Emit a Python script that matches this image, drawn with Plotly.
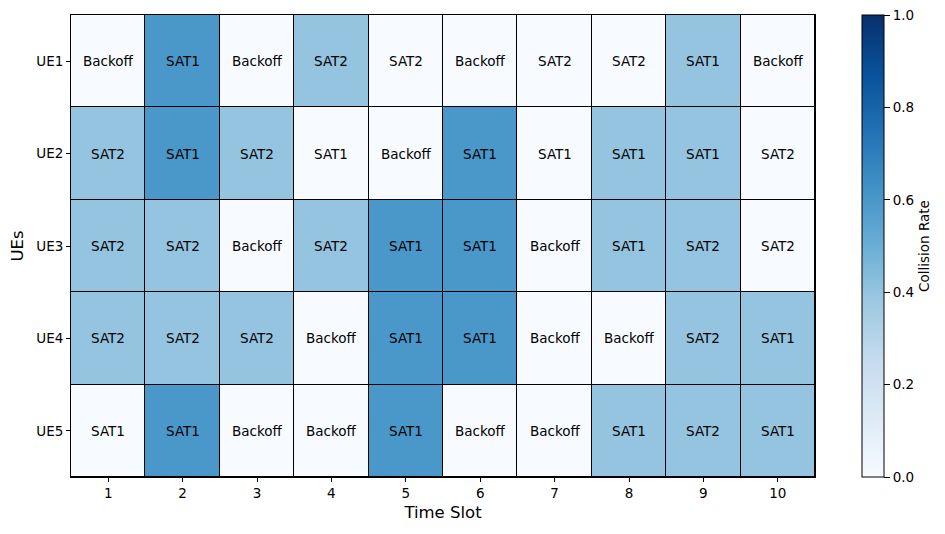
import plotly.graph_objects as go

time_slots = [1, 2, 3, 4, 5, 6, 7, 8, 9, 10]
ues = ["UE1", "UE2", "UE3", "UE4", "UE5"]

actions_ue1 = ["Backoff", "SAT1", "Backoff", "SAT2", "SAT2", "Backoff", "SAT2", "SAT2", "SAT1", "Backoff"]
actions_ue2 = ["SAT2", "SAT1", "SAT2", "SAT1", "Backoff", "SAT1", "SAT1", "SAT1", "SAT1", "SAT2"]
actions_ue3 = ["SAT2", "SAT2", "Backoff", "SAT2", "SAT1", "SAT1", "Backoff", "SAT1", "SAT2", "SAT2"]
actions_ue4 = ["SAT2", "SAT2", "SAT2", "Backoff", "SAT1", "SAT1", "Backoff", "Backoff", "SAT2", "SAT1"]
actions_ue5 = ["SAT1", "SAT1", "Backoff", "Backoff", "SAT1", "Backoff", "Backoff", "SAT1", "SAT2", "SAT1"]

rate_ue1 = [0.0, 0.6, 0.0, 0.4, 0.0, 0.0, 0.0, 0.0, 0.4, 0.0]
rate_ue2 = [0.4, 0.6, 0.4, 0.0, 0.0, 0.6, 0.0, 0.4, 0.4, 0.0]
rate_ue3 = [0.4, 0.4, 0.0, 0.4, 0.6, 0.6, 0.0, 0.4, 0.4, 0.0]
rate_ue4 = [0.4, 0.4, 0.4, 0.0, 0.6, 0.6, 0.0, 0.0, 0.4, 0.4]
rate_ue5 = [0.0, 0.6, 0.0, 0.0, 0.6, 0.0, 0.0, 0.4, 0.4, 0.4]

colorbar_ticks = [0.0, 0.2, 0.4, 0.6, 0.8, 1.0]

z = [rate_ue1, rate_ue2, rate_ue3, rate_ue4, rate_ue5]
text = [actions_ue1, actions_ue2, actions_ue3, actions_ue4, actions_ue5]

blues = ["#f7fbff", "#deebf7", "#c6dbef", "#9ecae1", "#6baed6",
         "#4292c6", "#2171b5", "#08519c", "#08306b"]
colorscale = [[i / (len(blues) - 1), c] for i, c in enumerate(blues)]

FONT = "DejaVu Sans"

fig = go.Figure(go.Heatmap(
    z=z, x=time_slots, y=ues, text=text,
    texttemplate="%{text}", textfont=dict(family=FONT, size=13.5, color="black"),
    colorscale=colorscale, zmin=0, zmax=1, xgap=1, ygap=1,
    colorbar=dict(
        title=dict(text="Collision Rate", side="right", font=dict(family=FONT, size=13.5, color="black")),
        x=1.0632, xanchor="left", xpad=0, ypad=0, y=0.5, yanchor="middle", len=1, lenmode="fraction",
        thickness=22, thicknessmode="pixels", outlinecolor="black", outlinewidth=1,
        tickmode="array", tickvals=colorbar_ticks,
        ticktext=[f"{t:.1f}" for t in colorbar_ticks],
        ticklabeloverflow="allow",
        ticks="outside", ticklen=6, tickcolor="black",
        tickfont=dict(family=FONT, size=13.5, color="black"),
    ),
    hoverinfo="skip",
))

fig.update_layout(
    width=937, height=526,
    margin=dict(l=63, r=130, t=7, b=57),
    paper_bgcolor="white", plot_bgcolor="black",
    font=dict(family=FONT, color="black"),
)
fig.update_xaxes(
    title=dict(text="Time Slot", font=dict(family=FONT, size=16.5, color="black"), standoff=6),
    tickvals=time_slots, ticks="outside", ticklen=4, tickcolor="black",
    tickfont=dict(family=FONT, size=13.5, color="black"),
    showline=True, linecolor="black", linewidth=1, mirror=True, showgrid=False, zeroline=False,
    range=[0.5, 10.5],
)
fig.update_yaxes(
    title=dict(text="UEs", font=dict(family=FONT, size=16.5, color="black"), standoff=8),
    autorange="reversed", ticks="outside", ticklen=4, tickcolor="black",
    tickfont=dict(family=FONT, size=13.5, color="black"),
    showline=True, linecolor="black", linewidth=1, mirror=True, showgrid=False, zeroline=False,
)

fig.write_html("out.html")
